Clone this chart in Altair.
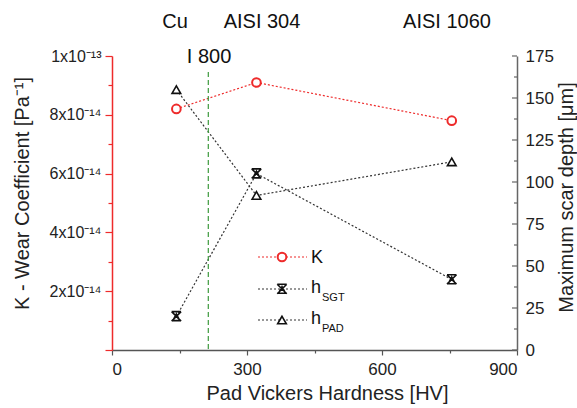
import altair as alt
import pandas as pd

# ---- data ----
hardness = [143, 321, 755]                 # Pad Vickers hardness [HV]
k_values = [8.2e-14, 9.1e-14, 7.8e-14]     # wear coefficient [Pa^-1]
h_sgt = [20, 105, 42]                      # max scar depth SGT [um]
h_pad = [155, 92, 112]                     # max scar depth PAD [um]
i800_hv = [214]                            # I 800 reference hardness
x_ticks = [0, 150, 300, 450, 600, 750, 900]
k_ticks = [i * 1e-14 for i in range(11)]
right_major = [0, 25, 50, 75, 100, 125, 150, 175]
right_minor = [12.5, 37.5, 62.5, 87.5, 112.5, 137.5, 162.5]

df = pd.DataFrame({"HV": hardness, "K": k_values, "SGT": h_sgt, "PAD": h_pad})

W, H = 405, 294
FONT = "Liberation Sans"
RED = "#ee2b2b"
DARK = "#333333"
GREEN = "#3c9a3c"

xscale = alt.Scale(domain=[0, 900], nice=False, zero=False)
kscale = alt.Scale(domain=[0, 1e-13], nice=False)
rscale = alt.Scale(domain=[0, 175], nice=False)

xaxis = alt.Axis(
    values=x_ticks,
    labelExpr="datum.value % 300 == 0 ? datum.label : ''",
    tickSize={"condition": {"test": "datum.value % 300 != 0", "value": 3}, "value": 5},
    domainColor="#555555", tickColor="#555555", domainWidth=1.5, tickWidth=1.2,
    labelFont=FONT, labelFontSize=17, labelColor="#222222", labelPadding=6,
    title="Pad Vickers Hardness [HV]", titleFont=FONT, titleFontSize=20,
    titleFontWeight="normal", titleColor="#222222", titlePadding=6,
    titleX=215, titleAlign="center", grid=False, labelOverlap=False,
)

kaxis = alt.Axis(
    values=k_ticks,
    labelExpr="round(datum.value*1e14) == 10 ? '1x10⁻¹³' : ((round(datum.value*1e14) % 2 == 0 && round(datum.value*1e14) > 0) ? round(datum.value*1e14) + 'x10⁻¹⁴' : '')",
    tickSize={"condition": {"test": "round(datum.value*1e14) % 2 == 1", "value": 4}, "value": 7},
    domainColor=RED, tickColor=RED, domainWidth=1.5, tickWidth=1.2,
    labelFont=FONT, labelFontSize=16, labelColor="#222222", labelPadding=4,
    title="K - Wear Coefficient [Pa⁻¹]", titleFont=FONT, titleFontSize=20,
    titleFontWeight="normal", titleColor="#222222", titlePadding=17,
    titleY=137, grid=False, labelOverlap=False,
)

raxis = alt.Axis(
    orient="right", values=right_major, tickSize=0,
    domainColor="#666666", domainWidth=1.5,
    labelFont=FONT, labelFontSize=17, labelColor="#222222", labelPadding=8,
    title="Maximum scar depth [μm]", titleFont=FONT, titleFontSize=20,
    titleFontWeight="normal", titleColor="#222222", titlePadding=3,
    titleAngle=270, titleBaseline="top", titleY=141, grid=False, labelOverlap=False,
)

base = alt.Chart(df)
X = alt.X("HV:Q", scale=xscale, axis=xaxis)

# K on left axis
k_line = base.mark_line(color=RED, strokeDash=[2, 2], strokeWidth=1.2).encode(
    x=X, y=alt.Y("K:Q", scale=kscale, axis=kaxis))
k_pts = base.mark_point(shape="circle", stroke=RED, fill="white", fillOpacity=1,
                        size=75, strokeWidth=2).encode(
    x=X, y=alt.Y("K:Q", scale=kscale, axis=kaxis))
left = alt.layer(k_line, k_pts)

# depths on right axis
sgt_shape = "M-1,-1L1,1M1,-1L-1,1M-1,-1L1,-1M0,-0.5L0.75,0.9L-0.75,0.9Z"
RY = lambda f: alt.Y(f, scale=rscale, axis=raxis)
sgt_line = base.mark_line(color=DARK, strokeDash=[2, 2], strokeWidth=1.2).encode(
    x=X, y=RY("SGT:Q"))
sgt_pts = base.mark_point(shape=sgt_shape, stroke="#111111", fill="white", fillOpacity=1,
                          size=90, strokeWidth=1.6).encode(x=X, y=RY("SGT:Q"))
pad_line = base.mark_line(color=DARK, strokeDash=[2, 2], strokeWidth=1.2).encode(
    x=X, y=RY("PAD:Q"))
pad_pts = base.mark_point(shape="triangle-up", stroke="#111111", fill="white", fillOpacity=1,
                          size=75, strokeWidth=1.6).encode(x=X, y=RY("PAD:Q"))
rmaj = alt.Chart(pd.DataFrame({"SGT": right_major})).mark_rule(color="#666666", strokeWidth=1.2).encode(
    x=alt.value(W - 5), x2=alt.value(W), y=RY("SGT:Q"))
rmin = alt.Chart(pd.DataFrame({"SGT": right_minor})).mark_rule(color="#666666", strokeWidth=1.2).encode(
    x=alt.value(W - 3), x2=alt.value(W), y=RY("SGT:Q"))
right = alt.layer(sgt_line, pad_line, sgt_pts, pad_pts, rmaj, rmin)

# I 800 vertical dashed line
vline = alt.Chart(pd.DataFrame({"HV": i800_hv})).mark_rule(
    color=GREEN, strokeDash=[5, 3], strokeWidth=1.2).encode(
    x=X, y=alt.value(16), y2=alt.value(H))

def label(txt, x, y, size=20, align="center", color="#111111"):
    return alt.Chart(pd.DataFrame({"t": [txt]})).mark_text(
        font=FONT, fontSize=size, align=align, baseline="middle", color=color
    ).encode(text="t:N", x=alt.value(x), y=alt.value(y))

top_labels = [
    label("Cu", 63, -34),
    label("AISI 304", 150, -34),
    label("AISI 1060", 335, -34),
    label("I 800", 97, 1),
]

# manual legend
def seg(y, color):
    return alt.Chart(pd.DataFrame({"a": [0]})).mark_rule(
        color=color, strokeDash=[2, 2], strokeWidth=1.2).encode(
        x=alt.value(146), x2=alt.value(195), y=alt.value(y))

def sym(y, **kw):
    return alt.Chart(pd.DataFrame({"a": [0]})).mark_point(fill="white", fillOpacity=1, **kw).encode(
        x=alt.value(170), y=alt.value(y))

legend = [
    seg(201, RED), sym(201, shape="circle", stroke=RED, size=75, strokeWidth=2),
    label("K", 199, 202, size=18, align="left"),
    seg(233, DARK), sym(233, shape=sgt_shape, stroke="#111111", size=90, strokeWidth=1.6),
    label("h", 199, 232, size=18, align="left"),
    label("SGT", 210, 242, size=11, align="left"),
    seg(264, DARK), sym(264, shape="triangle-up", stroke="#111111", size=75, strokeWidth=1.6),
    label("h", 199, 263, size=18, align="left"),
    label("PAD", 210, 273, size=11, align="left"),
]

chart = alt.layer(left, right, vline, *top_labels, *legend).resolve_scale(
    y="independent"
).properties(
    width=W, height=H,
    autosize="none",
    padding={"left": 112, "top": 56, "right": 577 - 112 - W, "bottom": 408 - 56 - H},
    background="white",
).configure_view(stroke=None)

chart.save("out.html", embed_options={"renderer": "svg", "actions": False})
